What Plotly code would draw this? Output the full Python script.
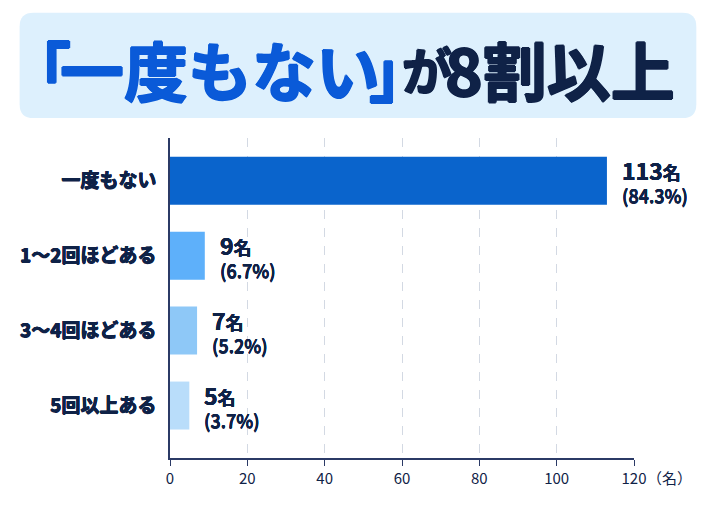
import plotly.graph_objects as go

categories = ["一度もない", "1～2回ほどある", "3～4回ほどある", "5回以上ある"]
counts = [113, 9, 7, 5]
percents = ["84.3", "6.7", "5.2", "3.7"]
bar_colors = ["#0a64cc", "#5eb0fa", "#8ec8f7", "#b9ddfa"]
x_ticks = [0, 20, 40, 60, 80, 100, 120]

NAVY = "#0f2247"
BLUE = "#0a5ad8"
FONT = "Noto Sans CJK JP"

# target positions in screenshot pixels; the page body adds an 8px margin
OFF = 8
W, H = 710 - OFF, 508 - 2 * OFF
L, T = 165, 138
pw, ph = 469, 322


def px(x):
    return (x - L) / pw


def py(y):
    return (T + ph - y) / ph


def round_rect(x0, y0, x1, y1, r):
    rx, ry = r / pw, r / ph
    a, b, c, d = px(x0), py(y0), px(x1), py(y1)
    return (f"M {a+rx},{b} L {c-rx},{b} Q {c},{b} {c},{b-ry} "
            f"L {c},{d+ry} Q {c},{d} {c-rx},{d} L {a+rx},{d} "
            f"Q {a},{d} {a},{d+ry} L {a},{b-ry} Q {a},{b} {a+rx},{b} Z")


def heavy(col, w=0.9):
    # fake a black weight by smearing the glyphs a little
    return ", ".join(f"{dx}px {dy}px 0 {col}" for dx, dy in
                     [(w, 0), (-w, 0), (0, w), (0, -w)])


fig = go.Figure()
fig.add_trace(go.Bar(
    x=counts, y=categories, orientation="h",
    marker=dict(color=bar_colors, line=dict(width=0)),
    width=0.64, hoverinfo="skip",
))

for cat, n, p in zip(categories, counts, percents):
    fig.add_annotation(
        x=n, y=cat, xanchor="left", yanchor="middle", xshift=13, yshift=0,
        showarrow=False, align="left",
        text=(f"<b><span style='font-size:23px'>{n}</span>"
              f"<span style='font-size:18px'>名</span></b><br>"
              f"<span style='font-size:18px'>({p}%)</span>"),
        font=dict(family=FONT, color=NAVY, size=18, weight=500,
                  shadow=heavy(NAVY, 0.15)),
    )

fig.add_annotation(
    x=120, y=0, xref="x", yref="paper", xanchor="left", yanchor="top",
    xshift=11, yshift=-7, showarrow=False, text="（名）",
    font=dict(family=FONT, color=NAVY, size=15),
)

# header box
fig.add_shape(type="path", xref="paper", yref="paper",
              path=round_rect(13, 12, 697, 118, 14),
              fillcolor="#ddf0fd", line=dict(width=0), layer="below")

title_parts = [
    ("「", 33, BLUE, 64),
    ("一度もない", 216, BLUE, 64),
    ("」", 398, BLUE, 64),
    ("が", 425, NAVY, 50),
    ("8割以上", 559, NAVY, 64),
]
for txt, cx, col, sz in title_parts:
    fig.add_annotation(
        x=px(cx), y=py(68), xref="paper", yref="paper",
        xanchor="center", yanchor="middle", showarrow=False,
        text=f"<b>{txt}</b>",
        font=dict(family=FONT, color=col, size=sz, weight=900,
                  shadow=heavy(col)),
    )

fig.update_layout(
    width=W, height=H,
    margin=dict(l=L - OFF, r=W - (L - OFF) - pw, t=T - OFF, b=H - (T - OFF) - ph),
    paper_bgcolor="white", plot_bgcolor="white",
    showlegend=False,
    font=dict(family=FONT, color=NAVY),
    xaxis=dict(
        range=[0, 120], tickvals=x_ticks, showgrid=True,
        gridcolor="#d3d9e3", griddash="dash", gridwidth=1,
        showline=True, linecolor="#2b3a66", linewidth=1.5,
        ticks="outside", ticklen=6, tickcolor="#2b3a66",
        tickfont=dict(family=FONT, size=15, color=NAVY),
        zeroline=False, fixedrange=True,
    ),
    yaxis=dict(
        categoryorder="array", categoryarray=categories,
        range=[3.70, -0.57], showgrid=False,
        showline=True, linecolor="#2b3a66", linewidth=1.5,
        ticks="", ticklabelstandoff=8,
        tickfont=dict(family=FONT, size=19, color=NAVY, weight="bold",
                      shadow=heavy(NAVY, 0.4)),
        zeroline=False, fixedrange=True,
    ),
)

fig.write_html("out.html")
